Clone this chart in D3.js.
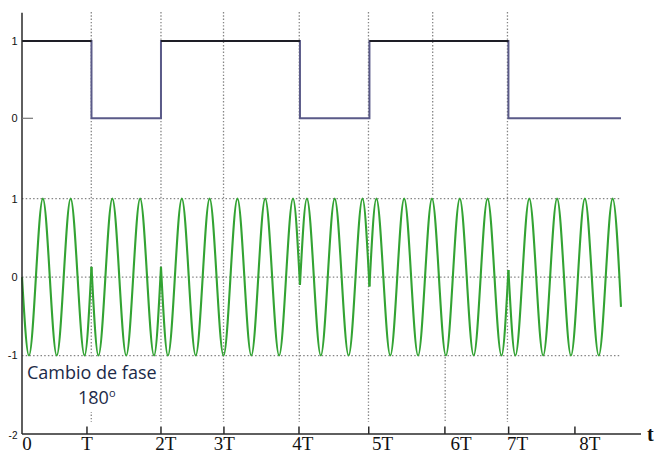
<!DOCTYPE html>
<html>
<head>
<meta charset="utf-8">
<script src="https://cdn.jsdelivr.net/npm/d3@7"></script>
<style>
  html, body { margin: 0; padding: 0; background: #fff; }
  svg { display: block; }
</style>
</head>
<body>
<svg id="chart" width="655" height="454"></svg>
<script>
// Bit stream (one value per bit period T) and where the trace stops, in T units
const bits = [1, 0, 1, 1, 0, 1, 1, 0, 0];
const signalEnd = 8.62;

// BPSK carrier: one array per constant-phase stretch, points are [t (in T), amplitude]
const carrierSegments = [
  [[0, 0], [0.1, -1], [0.3, 1], [0.5, -1], [0.7, 1], [0.9, -1], [1.0, 0.13]],
  [[1.0, 0.13], [1.1, -1], [1.3, 1], [1.5, -1], [1.7, 1], [1.9, -1], [2.0, 0.13]],
  [[2.0, 0.13], [2.1, -1], [2.3, 1], [2.5, -1], [2.7, 1], [2.9, -1], [3.1, 1], [3.3, -1],
   [3.5, 1], [3.7, -1], [3.9, 1], [4.0, -0.1]],
  [[4.0, -0.1], [4.1, 1], [4.3, -1], [4.5, 1], [4.7, -1], [4.9, 1], [5.0, -0.12]],
  [[5.0, -0.12], [5.1, 1], [5.3, -1], [5.5, 1], [5.7, -1], [5.9, 1], [6.1, -1], [6.3, 1],
   [6.5, -1], [6.7, 1], [6.9, -1], [7.0, 0.09]],
  [[7.0, 0.09], [7.1, -1], [7.3, 1], [7.5, -1], [7.7, 1], [7.9, -1], [8.1, 1], [8.3, -1],
   [8.5, 1], [8.62, -0.38]]
];

// Vertical axis levels
const squareLevels = [0, 1];
const carrierLevels = [-2, -1, 0, 1];
const gridLevels = [-1, 0, 1];

// Time axis: tick marks, their labels and where each label sits (T units)
const timeTicks = [0.935, 2.0, 2.906, 3.986, 4.99, 6.086, 7.003, 7.957];
const timeLabels = ["0", "T", "2T", "3T", "4T", "5T", "6T", "7T", "8T"];
const timeLabelAt = [0.072, 0.935, 2.07, 2.91, 4.04, 5.19, 6.32, 7.13, 8.17];

// Dotted guides at the bit instants; some only cover the upper or lower band
const guideTimes = [0.997, 2.0, 2.9, 3.99, 4.986, 5.91, 6.09, 6.986];
const guideParts = ["full", "full", "full", "full", "full", "upper", "lower", "full"];

const noteLines = ["Cambio de fase", "180"];

// ---------------------------------------------------------------------------
const svg = d3.select("#chart");
const W = 655, H = 454;
svg.append("rect").attr("width", W).attr("height", H).attr("fill", "#fff");

const x = d3.scaleLinear().domain([0, signalEnd]).range([22, 621]);
const ySq = d3.scaleLinear().domain([0, 1]).range([118.3, 41]);
const yCar = d3.scaleLinear().domain([-2, 1]).range([434, 198.6]);

const axisX = x(0), axisY = yCar(-2), axisTop = 12.7, axisRight = 641;
const spans = { full: [12, 422], upper: [12, 196], lower: [357, 422] };

// dotted vertical guides
svg.append("g").selectAll("line")
  .data(guideTimes.map((t, i) => ({ t, part: guideParts[i] })))
  .join("line")
  .attr("x1", d => x(d.t)).attr("x2", d => x(d.t))
  .attr("y1", d => spans[d.part][0]).attr("y2", d => spans[d.part][1])
  .attr("stroke", "#858585").attr("stroke-width", 1.3)
  .attr("stroke-dasharray", "1.4 1.9");

// dotted horizontal grid for the carrier band
svg.append("g").selectAll("line")
  .data(gridLevels)
  .join("line")
  .attr("x1", axisX).attr("x2", x(8.6))
  .attr("y1", d => yCar(d)).attr("y2", d => yCar(d))
  .attr("stroke", "#858585").attr("stroke-width", 1.3)
  .attr("stroke-dasharray", "1.5 2.2");

// square wave of the bit stream
const stepPts = bits.map((b, i) => [i, b]).concat([[signalEnd, bits[bits.length - 1]]]);
const stepLine = d3.line().x(d => x(d[0])).y(d => ySq(d[1])).curve(d3.curveStepAfter);
svg.append("path").datum(stepPts).attr("d", stepLine)
  .attr("fill", "none").attr("stroke", "#5a5a88").attr("stroke-width", 2);

// high-level runs drawn darker
const highRuns = [];
bits.forEach((b, i) => {
  if (b !== 1) return;
  const last = highRuns[highRuns.length - 1];
  const end = Math.min(i + 1, signalEnd);
  if (last && last[1] === i) last[1] = end; else highRuns.push([i, end]);
});
svg.append("g").selectAll("line").data(highRuns).join("line")
  .attr("x1", d => x(d[0])).attr("x2", d => x(d[1]))
  .attr("y1", ySq(1)).attr("y2", ySq(1))
  .attr("stroke", "#1e1e26").attr("stroke-width", 2);

// carrier
const carLine = d3.line().x(d => x(d[0])).y(d => yCar(d[1])).curve(d3.curveMonotoneX);
svg.append("g").selectAll("path").data(carrierSegments).join("path")
  .attr("d", carLine)
  .attr("fill", "none").attr("stroke", "#33a333").attr("stroke-width", 2.1)
  .attr("stroke-linejoin", "round");

// left axis
svg.append("line").attr("x1", axisX).attr("x2", axisX).attr("y1", axisTop).attr("y2", axisY)
  .attr("stroke", "#2a2a2a").attr("stroke-width", 1.5);
svg.append("line").attr("x1", axisX).attr("x2", axisX + 11).attr("y1", ySq(0)).attr("y2", ySq(0))
  .attr("stroke", "#777").attr("stroke-width", 1.2);

const tickFont = "'Liberation Sans', Arial, sans-serif";
svg.append("g").selectAll("text").data(squareLevels).join("text")
  .attr("x", 17.5).attr("y", d => ySq(d)).attr("dy", "0.36em")
  .attr("text-anchor", "end").attr("font-family", tickFont).attr("font-size", 11)
  .attr("fill", "#111").text(d => d);
svg.append("g").selectAll("text").data(carrierLevels).join("text")
  .attr("x", 17.5).attr("y", d => yCar(d) + (d === -2 ? 1.5 : 0)).attr("dy", "0.36em")
  .attr("text-anchor", "end").attr("font-family", tickFont)
  .attr("font-size", d => d === -2 ? 10 : 11)
  .attr("fill", "#111").text(d => d);

// time axis
svg.append("line").attr("x1", axisX).attr("x2", axisRight).attr("y1", axisY).attr("y2", axisY)
  .attr("stroke", "#2a2a2a").attr("stroke-width", 1.5);
svg.append("g").selectAll("line").data(timeTicks).join("line")
  .attr("x1", d => x(d)).attr("x2", d => x(d))
  .attr("y1", axisY - 7.5).attr("y2", axisY)
  .attr("stroke", "#2a2a2a").attr("stroke-width", 1.5);
svg.append("g").selectAll("text").data(timeLabels).join("text")
  .attr("x", (d, i) => x(timeLabelAt[i])).attr("y", 449.5)
  .attr("text-anchor", "middle")
  .attr("font-family", "'Liberation Serif', 'Times New Roman', serif")
  .attr("font-size", 19).attr("fill", "#111").text(d => d);
svg.append("text").attr("x", 647).attr("y", 441)
  .attr("font-family", "'Liberation Serif', 'Times New Roman', serif")
  .attr("font-weight", "bold").attr("font-size", 20).attr("fill", "#111").text("t");

// phase-change note
svg.append("rect").attr("x", 25).attr("y", 358).attr("width", 133).attr("height", 54)
  .attr("fill", "#fff");
const noteFont = "'Open Sans', 'Noto Sans', sans-serif";
svg.append("text").attr("x", 27).attr("y", 378.5)
  .attr("font-family", noteFont).attr("font-size", 18).attr("fill", "#1c2a48")
  .text(noteLines[0]);
const deg = svg.append("text").attr("x", 78).attr("y", 403.5)
  .attr("font-family", noteFont).attr("font-size", 18).attr("fill", "#1c2a48");
deg.append("tspan").text(noteLines[1]);
deg.append("tspan").attr("font-size", 11).attr("dy", -7).text("o");
</script>
</body>
</html>
